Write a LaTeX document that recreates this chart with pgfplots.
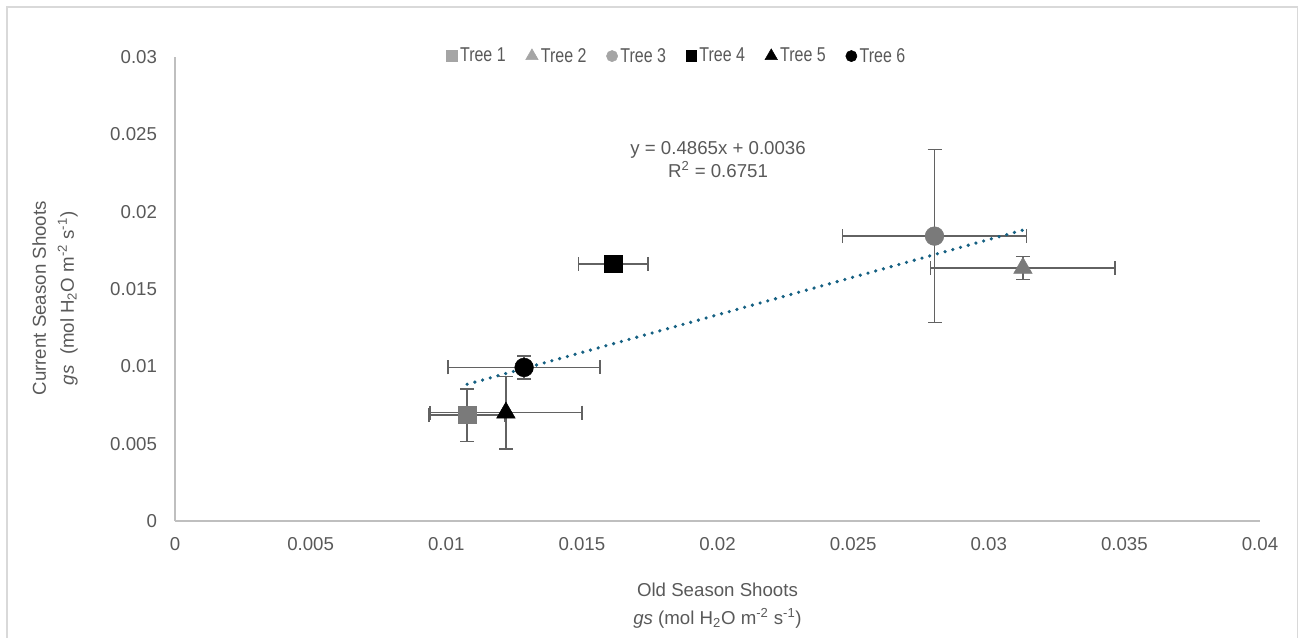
\documentclass[border=0pt]{standalone}
\usepackage{fontspec}
\setmainfont{Liberation Sans}
\newfontfamily\narrowfont{Liberation Sans}[FakeStretch=0.8]
\usepackage{pgfplots}
\pgfplotsset{compat=1.18}
\definecolor{txt}{HTML}{595959}
\definecolor{axl}{HTML}{BFBFBF}
\definecolor{brd}{HTML}{D9D9D9}
\definecolor{mgray}{HTML}{7A7A7A}
\definecolor{lgray}{HTML}{A5A5A5}
\definecolor{ebar}{HTML}{626262}
\definecolor{trend}{HTML}{156082}
\begin{document}
\begin{tikzpicture}[x=1pt,y=1pt]
\useasboundingbox (-131.25,-87) rectangle (848.25,390.75);
\draw[brd, line width=0.9pt] (-126,-95) rectangle (842,385.5);
\begin{axis}[
  at={(0,0)}, anchor=south west,
  scale only axis, width=813.75pt, height=348pt,
  xmin=0, xmax=0.04, ymin=0, ymax=0.03,
  xtick={0,0.005,0.01,0.015,0.02,0.025,0.03,0.035,0.04},
  xticklabels={0,0.005,0.01,0.015,0.02,0.025,0.03,0.035,0.04},
  ytick={0,0.005,0.01,0.015,0.02,0.025,0.03},
  yticklabels={0,0.005,0.01,0.015,0.02,0.025,0.03},
  scaled x ticks=false, scaled y ticks=false,
  axis lines*=left,
  axis line style={axl, line width=1pt},
  major tick length=0pt,
  tick label style={font=\fontsize{14}{16}\selectfont, text=txt},
  yticklabel style={xshift=-10pt},
  xticklabel style={yshift=-9pt},
  clip=false,
  legend columns=6,
  legend style={at={(0.463,1.002)}, anchor=center, draw=none, fill=none,
    font=\narrowfont\fontsize{15}{17}\selectfont, text=txt,
    /tikz/every even column/.append style={column sep=13pt},
    /tikz/every odd column/.append style={column sep=0pt}},
  legend image code/.code={\draw[mark repeat=2,mark phase=2,#1] plot coordinates {(0pt,0pt) (4.5pt,0pt) (9pt,0pt)};},
  every axis plot/.append style={only marks},
  error bars/error bar style={ebar, line width=1.1pt},
  error bars/error mark options={rotate=90, ebar, line width=1.1pt, mark size=5.25pt},
]
% Tree 1
\addplot[mark=square*, mark size=6.5pt, mgray, mark options={fill=mgray, draw=mgray},
  legend image post style={mark size=4pt, mark options={fill=lgray, draw=lgray}},
  error bars/.cd, x dir=both, x explicit, y dir=both, y explicit]
  coordinates {(0.01077,0.00685) +- (0.0014,0.0017)};
\addlegendentry{Tree 1}
% Tree 2
\addplot[mark=triangle*, mark size=8pt, mgray, mark options={fill=mgray, draw=mgray},
  legend image post style={mark size=5.4pt, mark options={fill=lgray, draw=lgray}},
  error bars/.cd, x dir=both, x explicit, y dir=both, y explicit]
  coordinates {(0.03126,0.01635) +- (0.0034,0.00075)};
\addlegendentry{Tree 2}
% Tree 3
\addplot[mark=*, mark size=7pt, mgray, mark options={fill=mgray, draw=mgray},
  legend image post style={mark size=4.2pt, mark options={fill=lgray, draw=lgray}},
  error bars/.cd, x dir=both, x explicit, y dir=both, y explicit]
  coordinates {(0.0280,0.01842) +- (0.0034,0.0056)};
\addlegendentry{Tree 3}
% Tree 4
\addplot[mark=square*, mark size=6.5pt, black, mark options={fill=black, draw=black},
  legend image post style={mark size=4pt},
  error bars/.cd, x dir=both, x explicit, y dir=none]
  coordinates {(0.01616,0.01663) +- (0.00128,0.0)};
\addlegendentry{Tree 4}
% Tree 5
\addplot[mark=triangle*, mark size=8pt, black, mark options={fill=black, draw=black},
  legend image post style={mark size=5.4pt},
  error bars/.cd, x dir=both, x explicit, y dir=both, y explicit]
  coordinates {(0.0122,0.0070) +- (0.0028,0.00235)};
\addlegendentry{Tree 5}
% Tree 6
\addplot[mark=*, mark size=7pt, black, mark options={fill=black, draw=black},
  legend image post style={mark size=4.2pt},
  error bars/.cd, x dir=both, x explicit, y dir=both, y explicit]
  coordinates {(0.01287,0.00993) +- (0.0028,0.00075)};
\addlegendentry{Tree 6}
% trendline
\addplot[sharp plot, no marks, trend, line width=2.7pt, line cap=round,
  dash pattern=on 0pt off 6pt, forget plot]
  coordinates {(0.01077,0.00884) (0.03126,0.01881)};
\node[text=txt, font=\fontsize{14}{17}\selectfont, align=center]
  at (axis cs:0.02002,0.02337) {y = 0.4865x + 0.0036\\R\textsuperscript{2} = 0.6751};
\node[text=txt, font=\fontsize{14}{21}\selectfont, align=center]
  at (axis description cs:0.5,-0.183) {Old Season Shoots\\\textit{gs} (mol H\textsubscript{2}O m\textsuperscript{-2} s\textsuperscript{-1})};
\node[text=txt, font=\fontsize{14}{21}\selectfont, align=center, rotate=90]
  at (axis description cs:-0.1106,0.48) {Current Season Shoots\\\textit{gs}~ (mol H\textsubscript{2}O m\textsuperscript{-2} s\textsuperscript{-1})};
\end{axis}
\end{tikzpicture}
\end{document}
